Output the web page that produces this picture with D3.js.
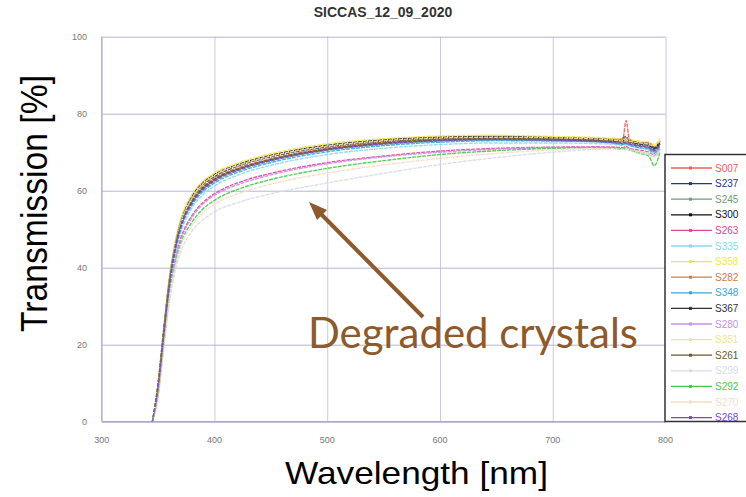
<!doctype html>
<html>
<head>
<meta charset="utf-8">
<script src="https://cdn.jsdelivr.net/npm/d3@7"></script>
<style>
  body { margin: 0; background: #fff; }
  svg { display: block; }
</style>
</head>
<body>
<svg width="746" height="497"></svg>
<script>
// wavelength grid (nm) shared by every series
var wavelengths = [345, 350, 355, 360, 365, 370, 380, 390, 400, 425, 450, 500, 550, 600, 650, 700, 740, 755, 762, 765, 768, 775, 785, 790, 795];

var names  = ["S007","S237","S245","S300","S263","S335","S358","S282","S348","S367","S280","S351","S261","S299","S292","S270","S268"];
var colors = ["#e8605a","#2a3590","#6aa07a","#111111","#e0489a","#88d8f0","#f2e640","#c8804a","#38a8d8","#333333","#c890e8","#f0e298","#6b5a22","#d8dce8","#44cc44","#f6dcc4","#7848c8"];

// transmission [%]
var S007 = [0, 9, 23, 36, 45, 51, 57.4, 61, 63.2, 66.3, 68.3, 71, 72.6, 73.4, 73.6, 73.4, 73.1, 73.6, 73.0, 78.2, 73.4, 72.6, 71.9, 71.2, 72.6];
var S237 = [0, 8.5, 22.5, 35.5, 44.5, 50.5, 57, 60.6, 62.8, 66, 68, 70.7, 72.3, 73.1, 73.4, 73.2, 72.9, 72.7, 73.6, 74.0, 72.8, 72.2, 71.8, 70.9, 72.1];
var S245 = [0, 8, 22, 35, 44, 50, 56.5, 60.2, 62.4, 65.6, 67.7, 70.5, 72.0, 72.9, 73.2, 73.0, 72.7, 72.4, 72.2, 72.3, 72.0, 71.6, 71.0, 70.2, 71.8];
var S300 = [0, 10, 24, 37, 46, 52, 58.6, 62.2, 64.2, 67.2, 69.2, 71.8, 73.2, 73.9, 74.1, 73.8, 73.5, 73.2, 73.0, 73.1, 72.9, 72.6, 72.1, 71.4, 72.8];
var S263 = [0, 7.5, 21, 33.5, 42, 47.5, 53.5, 57, 59.2, 62.5, 64.5, 67.3, 69.0, 70.3, 71.0, 71.3, 71.4, 71.3, 71.2, 71.5, 71.0, 70.6, 70.0, 69.2, 70.8];
var S335 = [0, 8, 21.5, 34.5, 43, 49, 55.5, 59, 61.2, 64.5, 66.6, 69.4, 71.0, 72.0, 72.4, 72.4, 72.2, 72.0, 71.8, 72.0, 71.7, 71.2, 70.5, 69.6, 71.2];
var S358 = [0, 10, 24, 37.5, 46.5, 52.5, 59, 62.5, 64.6, 67.6, 69.6, 72.2, 73.5, 74.2, 74.4, 74.1, 73.8, 73.5, 73.3, 73.4, 73.2, 72.9, 72.6, 72.0, 73.6];
var S282 = [0, 9, 23, 36, 45, 51, 57.4, 61, 63, 66.2, 68.2, 70.9, 72.6, 73.4, 73.7, 73.5, 73.3, 73.0, 73.4, 73.8, 73.0, 72.5, 72.4, 71.5, 73.0];
var S348 = [0, 8.5, 22, 35, 44, 50, 56.2, 59.8, 62, 65.2, 67.3, 70.1, 71.7, 72.6, 73.0, 72.9, 72.7, 72.3, 72.0, 72.2, 71.8, 71.3, 70.8, 69.8, 71.5];
var S367 = [0, 9.5, 23.5, 36.5, 45.5, 51.5, 58, 61.6, 63.7, 66.8, 68.8, 71.4, 72.9, 73.6, 73.9, 73.6, 73.3, 73.0, 72.8, 73.0, 72.7, 72.3, 71.8, 71.0, 72.5];
var S280 = [0, 7.5, 20.5, 33, 41.5, 47, 53, 56.6, 58.8, 62, 64.1, 67.0, 68.8, 70.0, 70.8, 71.2, 71.3, 71.1, 71.0, 71.2, 70.9, 70.3, 69.6, 68.9, 70.5];
var S351 = [0, 9, 23, 36.5, 45.5, 51.5, 58, 61.8, 64, 67, 69, 71.6, 73.0, 73.7, 73.9, 73.7, 73.4, 73.1, 72.9, 73.0, 72.8, 72.5, 72.0, 71.6, 73.2];
var S261 = [0, 9, 23, 36, 45, 50.8, 57.2, 60.8, 63, 66, 68.1, 70.8, 72.4, 73.2, 73.5, 73.3, 73.0, 72.7, 72.5, 72.6, 72.4, 71.9, 71.3, 70.6, 72.2];
var S299 = [0, 6.5, 19, 31, 39, 44, 49.5, 52.5, 54.5, 57.3, 59.2, 62.0, 64.5, 66.8, 68.6, 70.0, 70.8, 70.9, 70.8, 71.0, 70.7, 70.3, 69.8, 69.0, 70.6];
var S292 = [0, 7, 20, 32.5, 40.5, 46, 51.8, 55.3, 57.5, 60.8, 62.9, 65.8, 67.8, 69.4, 70.4, 71.0, 71.2, 71.0, 70.8, 71.0, 70.6, 69.9, 69.0, 66.5, 70.0];
var S270 = [0, 7, 19.5, 32, 40, 45.5, 51, 54.3, 56.5, 59.6, 61.7, 64.6, 66.7, 68.4, 69.7, 70.6, 71.0, 70.9, 70.7, 70.9, 70.6, 70.1, 69.5, 68.8, 70.3];
var S268 = [0, 8.5, 22, 35.5, 44.5, 50.5, 56.8, 60.4, 62.6, 65.8, 67.9, 70.6, 72.2, 73.0, 73.3, 73.1, 72.8, 72.5, 72.3, 72.4, 72.1, 71.7, 71.2, 70.4, 72.0];

var seriesValues = [S007,S237,S245,S300,S263,S335,S358,S282,S348,S367,S280,S351,S261,S299,S292,S270,S268];

var xTicks = [300, 400, 500, 600, 700, 800];
var yTicks = [0, 20, 40, 60, 80, 100];

var svg = d3.select("svg");
var plotLeft = 101.7, plotRight = 665.5, plotTop = 36.7, plotBottom = 421.7;

var x = d3.scaleLinear().domain([300, 800]).range([plotLeft, plotRight]);
var y = d3.scaleLinear().domain([0, 100]).range([plotBottom, plotTop]);

// grid
svg.append("g")
   .attr("transform", "translate(0," + plotBottom + ")")
   .call(d3.axisBottom(x).tickValues(xTicks).tickSize(-(plotBottom - plotTop)).tickFormat(""))
   .call(function(g) { g.select(".domain").remove(); })
   .selectAll("line").attr("stroke", "#cacae4").attr("stroke-width", 1);

svg.append("g")
   .attr("transform", "translate(" + plotLeft + ",0)")
   .call(d3.axisLeft(y).tickValues(yTicks).tickSize(-(plotRight - plotLeft)).tickFormat(""))
   .call(function(g) { g.select(".domain").remove(); })
   .selectAll("line").attr("stroke", "#b4b4d8").attr("stroke-width", 1);

// axis lines
svg.append("line").attr("x1", plotLeft).attr("x2", plotLeft).attr("y1", plotTop).attr("y2", plotBottom)
   .attr("stroke", "#a8a8d0");
svg.append("line").attr("x1", plotLeft).attr("x2", plotRight).attr("y1", plotBottom).attr("y2", plotBottom)
   .attr("stroke", "#9c9cc8");

// tick labels
svg.append("g").selectAll("text").data(xTicks).enter().append("text")
   .attr("x", function(d) { return x(d); })
   .attr("y", 443)
   .attr("text-anchor", "middle")
   .attr("font-family", "Liberation Sans, Arial, sans-serif")
   .attr("font-size", 9)
   .attr("fill", "#777")
   .text(function(d) { return d; });

svg.append("g").selectAll("text").data(yTicks).enter().append("text")
   .attr("x", 87)
   .attr("y", function(d) { return y(d) + 3; })
   .attr("text-anchor", "end")
   .attr("font-family", "Liberation Sans, Arial, sans-serif")
   .attr("font-size", 9)
   .attr("fill", "#777")
   .text(function(d) { return d; });

// curves
var line = d3.line()
    .x(function(d, i) { return x(wavelengths[i]); })
    .y(function(d) { return y(d); })
    .curve(d3.curveMonotoneX);

svg.append("g").selectAll("path").data(seriesValues).enter().append("path")
   .attr("d", line)
   .attr("fill", "none")
   .attr("stroke", function(d, i) { return colors[i]; })
   .attr("stroke-width", 1.4)
   .attr("stroke-dasharray", "4,1")
   .attr("opacity", 0.9);

// title
svg.append("text")
   .attr("x", 383).attr("y", 17)
   .attr("text-anchor", "middle")
   .attr("font-family", "Liberation Sans, Arial, sans-serif")
   .attr("font-weight", "bold")
   .attr("font-size", 14)
   .attr("fill", "#333")
   .text("SICCAS_12_09_2020");

// axis titles
svg.append("text")
   .attr("x", 416.5).attr("y", 484)
   .attr("text-anchor", "middle")
   .attr("font-family", "Liberation Sans, Arial, sans-serif")
   .attr("font-size", 32)
   .attr("textLength", 263)
   .attr("lengthAdjust", "spacingAndGlyphs")
   .attr("fill", "#000")
   .text("Wavelength [nm]");

svg.append("text")
   .attr("transform", "translate(47,203.5) rotate(-90)")
   .attr("text-anchor", "middle")
   .attr("font-family", "Liberation Sans, Arial, sans-serif")
   .attr("font-size", 36)
   .attr("textLength", 257)
   .attr("lengthAdjust", "spacingAndGlyphs")
   .attr("fill", "#000")
   .text("Transmission [%]");

// legend
var leg = svg.append("g");
leg.append("rect")
   .attr("x", 665).attr("y", 154.5)
   .attr("width", 100).attr("height", 267)
   .attr("fill", "#fff")
   .attr("stroke", "#333").attr("stroke-width", 1.5);

var item = leg.selectAll("g.item").data(names).enter().append("g")
   .attr("class", "item")
   .attr("transform", function(d, i) { return "translate(0," + (168 + i * 15.6) + ")"; });
item.append("line")
   .attr("x1", 671).attr("x2", 712).attr("y1", 0).attr("y2", 0)
   .attr("stroke", function(d, i) { return colors[i]; })
   .attr("stroke-width", 1.3);
item.append("rect")
   .attr("x", 689).attr("y", -1.5).attr("width", 3).attr("height", 3)
   .attr("fill", function(d, i) { return colors[i]; });
item.append("text")
   .attr("x", 715).attr("y", 3.5)
   .attr("font-family", "Liberation Sans, Arial, sans-serif")
   .attr("font-size", 10)
   .attr("fill", function(d, i) { return colors[i]; })
   .text(function(d) { return d; });

// annotation
var brown = "#8c5a2b";
svg.append("line")
   .attr("x1", 423).attr("y1", 317).attr("x2", 318).attr("y2", 211)
   .attr("stroke", brown).attr("stroke-width", 4);
svg.append("path")
   .attr("d", "M309,202 L327,210 L317,220 Z")
   .attr("fill", brown);
svg.append("text")
   .attr("x", 308).attr("y", 348)
   .attr("font-family", "Lato, Open Sans, sans-serif")
   .attr("font-size", 42)
   .attr("textLength", 330)
   .attr("lengthAdjust", "spacingAndGlyphs")
   .attr("fill", brown)
   .text("Degraded crystals");
</script>
</body>
</html>
